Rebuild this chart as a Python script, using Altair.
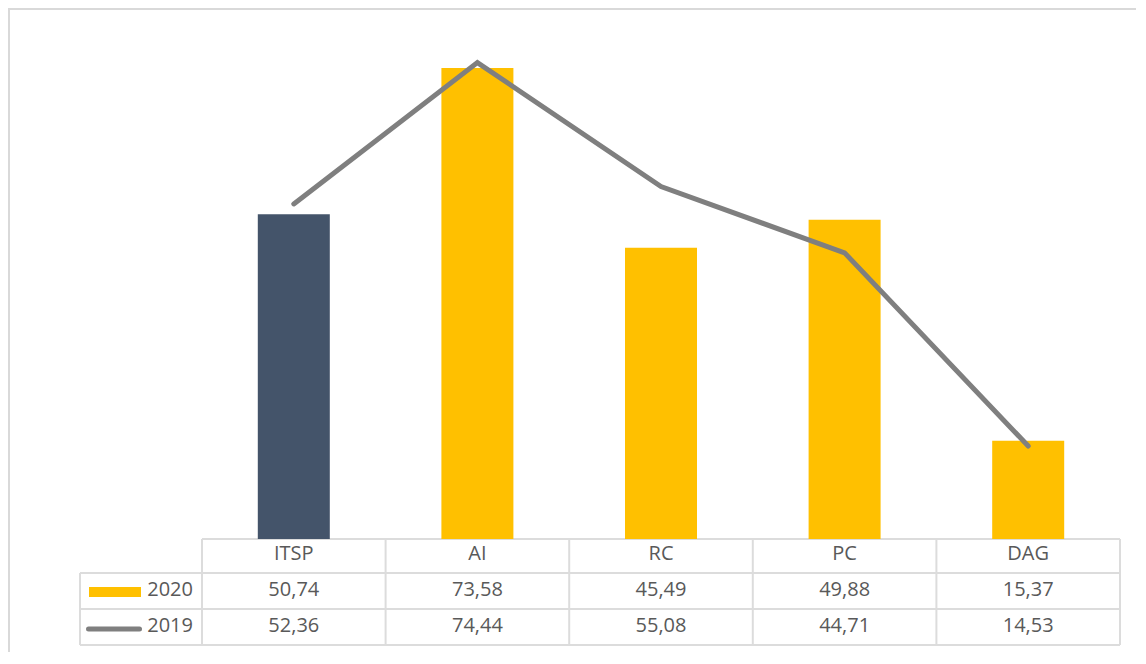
import altair as alt
import pandas as pd

categories = ["ITSP", "AI", "RC", "PC", "DAG"]
values_2020 = [50.74, 73.58, 45.49, 49.88, 15.37]
values_2019 = [52.36, 74.44, 55.08, 44.71, 14.53]
years = ["2020", "2019"]

def fmt(v):
    return f"{v:.2f}".replace(".", ",")

df2020 = pd.DataFrame({"category": categories, "value": values_2020,
                       "label": [fmt(v) for v in values_2020]})
df2019 = pd.DataFrame({"category": categories, "value": values_2019,
                       "label": [fmt(v) for v in values_2019]})
dfcat = pd.DataFrame({"category": categories})

FONT = "Open Sans"
TXT = "#595959"
GRID = "#DCDCDC"

xscale = alt.Scale(domain=categories, range=[194, 1112], paddingInner=0, paddingOuter=0)
yscale = alt.Scale(domain=[0, 80], range=[531, 19], nice=False, zero=True)

X = lambda bp=0.5: alt.X("category:N", scale=xscale, axis=None, sort=categories, bandPosition=bp)

bars = alt.Chart(df2020).mark_bar(width=72).encode(
    x=alt.X("category:N", scale=xscale, axis=None, sort=categories),
    y=alt.Y("value:Q", scale=yscale, axis=None),
    color=alt.condition(alt.datum.category == "ITSP", alt.value("#44546A"), alt.value("#FFC000")),
)

line = alt.Chart(df2019).mark_line(color="#7F7F7F", strokeWidth=5, strokeCap="round").encode(
    x=X(0.5),
    y=alt.Y("value:Q", scale=yscale, axis=None),
)

one = alt.Data(values=[{}])

def hrule(y, x1, x2, color=GRID, w=2, cap="butt"):
    return alt.Chart(one).mark_rule(color=color, strokeWidth=w, strokeCap=cap).encode(
        x=alt.value(x1), x2=alt.value(x2), y=alt.value(y))

def vrule(x, y1, y2, color=GRID, w=2):
    return alt.Chart(one).mark_rule(color=color, strokeWidth=w).encode(
        x=alt.value(x), y=alt.value(y1), y2=alt.value(y2))

# table grid
grid_layers = [
    hrule(531, 194, 1112),
    hrule(565, 72, 1112),
    hrule(601, 72, 1112),
    hrule(637, 72, 1112),
    vrule(72, 565, 637),
    vrule(1112, 531, 637),
]
band_edges = alt.Chart(dfcat).mark_rule(color=GRID, strokeWidth=2).encode(
    x=X(0), y=alt.value(531), y2=alt.value(637))

# outer border (left and top)
border = [hrule(1, 0, 1130, color="#D9D9D9", w=2), vrule(1, 0, 650, color="#D9D9D9", w=2)]

text_props = dict(font=FONT, fontSize=20, color=TXT, baseline="middle", align="center")
header = alt.Chart(dfcat).mark_text(**text_props).encode(x=X(0.5), y=alt.value(546), text="category:N")
row2020 = alt.Chart(df2020).mark_text(**text_props).encode(x=X(0.5), y=alt.value(582), text="label:N")
row2019 = alt.Chart(df2019).mark_text(**text_props).encode(x=X(0.5), y=alt.value(618), text="label:N")

legend_props = dict(font=FONT, fontSize=20, color=TXT, baseline="middle", align="right")
leg2020 = alt.Chart(pd.DataFrame({"year": [years[0]]})).mark_text(**legend_props).encode(
    x=alt.value(185), y=alt.value(582), text="year:N")
leg2019 = alt.Chart(pd.DataFrame({"year": [years[1]]})).mark_text(**legend_props).encode(
    x=alt.value(185), y=alt.value(618), text="year:N")

sw2020 = hrule(584, 81, 133, color="#FFC000", w=10)
sw2019 = hrule(621, 80.5, 131.5, color="#7F7F7F", w=5, cap="round")

chart = alt.layer(
    *border, *grid_layers, band_edges, bars, line, header, row2020, row2019,
    leg2020, leg2019, sw2020, sw2019
).properties(
    width=1128, height=644, padding=0,
    autosize=alt.AutoSizeParams(type="none"),
).configure_view(stroke="transparent")

chart.save("out.html", embed_options={"renderer": "svg", "actions": False})
